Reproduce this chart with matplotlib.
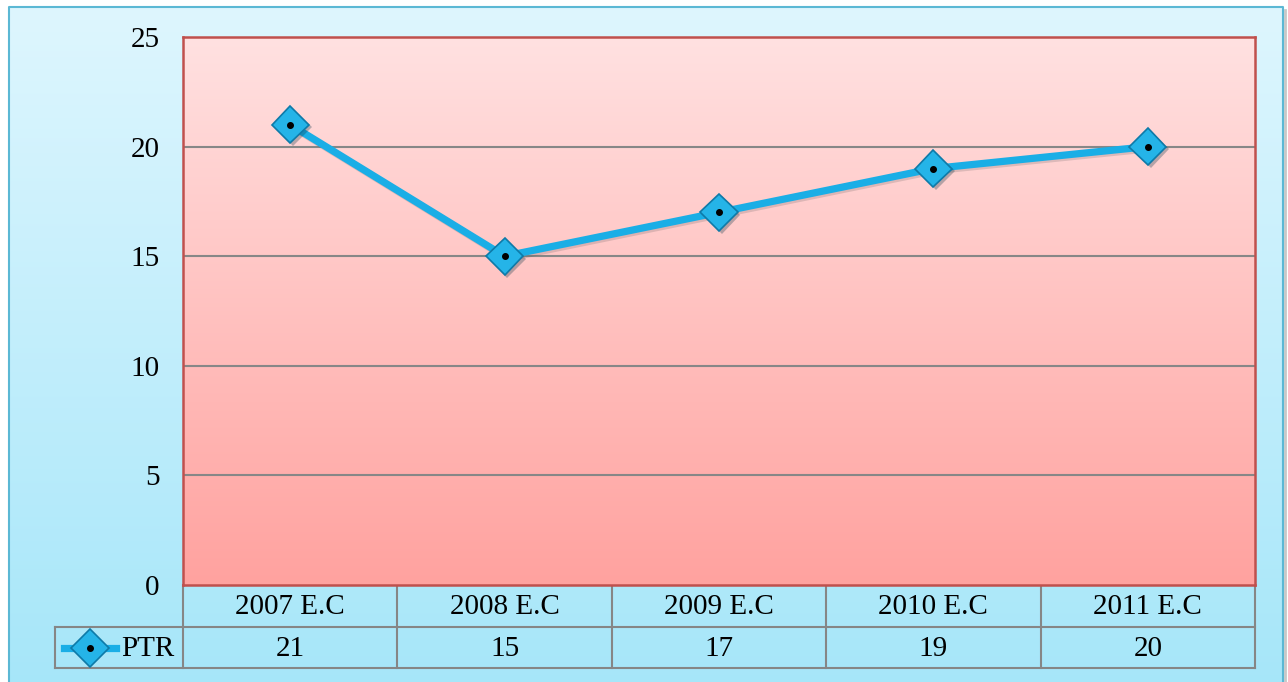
import numpy as np
import matplotlib
matplotlib.use("Agg")
import matplotlib.pyplot as plt
from matplotlib.colors import LinearSegmentedColormap
import matplotlib.patheffects as pe

categories = ["2007 E.C", "2008 E.C", "2009 E.C", "2010 E.C", "2011 E.C"]
ptr_values = [21, 15, 17, 19, 20]
series_name = "PTR"
yticks = [0, 5, 10, 15, 20, 25]

W, H = 1288, 682
fig = plt.figure(figsize=(W / 100, H / 100), dpi=100)
fig.patch.set_facecolor("white")

plt.rcParams['font.family'] = ['Liberation Serif', 'DejaVu Serif']
FS = 21

def fx(px):
    return px / W

def fy(py):
    return 1 - py / H

# outer background with gradient
bg = fig.add_axes([0, 0, 1, 1], zorder=-10)
bg.set_xlim(0, W)
bg.set_ylim(H, 0)
bg.axis("off")
cmap_bg = LinearSegmentedColormap.from_list("bg", ["#def6fe", "#a5e6f9"])
grad = np.linspace(0, 1, 256).reshape(-1, 1)
bg.imshow(grad, cmap=cmap_bg, extent=[9, 1283, 700, 7], aspect="auto", zorder=0)
bg.plot([9, 9, 1283, 1283], [700, 7, 7, 700], color="#5bb8d4", lw=1.5, zorder=1)
bg.plot([1285.5, 1285.5], [10, 700], color="#c8c8c8", lw=2, zorder=0.5)

# main axes
L, R, T, B = 183, 1255, 37, 585
ax = fig.add_axes([fx(L), fy(B), (R - L) / W, (B - T) / H], zorder=1)
ax.patch.set_alpha(0)
cmap_pl = LinearSegmentedColormap.from_list("pl", ["#ffe1e1", "#ffa29f"])
x = np.arange(len(categories))
ax.set_xlim(-0.5, len(categories) - 0.5)
ax.set_ylim(0, 25)
ax.imshow(grad, cmap=cmap_pl, extent=[-0.5, len(categories) - 0.5, 0, 25],
          aspect="auto", zorder=0)
for v in yticks[1:-1]:
    ax.axhline(v, color="#878787", lw=1.5, zorder=1)
for s in ax.spines.values():
    s.set_color("#c0504d")
    s.set_linewidth(1.8)
ax.set_yticks(yticks)
ax.set_yticklabels([str(v) for v in yticks], fontsize=FS)
ax.tick_params(axis="y", length=0, pad=17)
ax.set_xticks([])

LINE_C = "#1aaee6"
MK = dict(ls="none", marker="D", markersize=19, markerfacecolor="#25b4e8",
          markeredgecolor="#0e7aa8", markeredgewidth=1.2)
shadow = [pe.SimpleLineShadow(offset=(1.5, -1.5), shadow_color="#555555", alpha=0.2), pe.Normal()]
ax.plot(x, ptr_values, color=LINE_C, lw=5.2, zorder=3, solid_capstyle="round",
        path_effects=shadow)
ax.plot(x, ptr_values, zorder=4,
        path_effects=[pe.SimplePatchShadow(offset=(2, -2), alpha=0.3), pe.Normal()], **MK)
ax.plot(x, ptr_values, ls="none", marker="o", markersize=4, color="black", zorder=5)

# data table
grid_c = "#868686"
col_edges = np.linspace(L, R, len(categories) + 1)
r0, r1, r2 = B, 627, 668
bg.plot([L, L], [r0, r2], color=grid_c, lw=1.5, zorder=2)
for e in col_edges[1:]:
    bg.plot([e, e], [r0, r2], color=grid_c, lw=1.5, zorder=2)
bg.plot([55, R], [r1, r1], color=grid_c, lw=1.5, zorder=2)
bg.plot([55, R], [r2, r2], color=grid_c, lw=1.5, zorder=2)
bg.plot([55, 55], [r1, r2], color=grid_c, lw=1.5, zorder=2)
for i, c in enumerate(categories):
    cx = (col_edges[i] + col_edges[i + 1]) / 2
    bg.text(cx, (r0 + r1) / 2 + 1, c, ha="center", va="center", fontsize=FS, zorder=3)
    bg.text(cx, (r1 + r2) / 2 + 1, str(ptr_values[i]), ha="center", va="center",
            fontsize=FS, zorder=3)

# legend key in table
bg.plot([64, 116], [648, 648], color=LINE_C, lw=5.2, zorder=3)
bg.plot([90], [648], zorder=4, **MK)
bg.plot([90], [648], ls="none", marker="o", markersize=4, color="black", zorder=5)
bg.text(148, 649, series_name, ha="center", va="center", fontsize=FS, zorder=3)

fig.savefig("out.png", dpi=100)
